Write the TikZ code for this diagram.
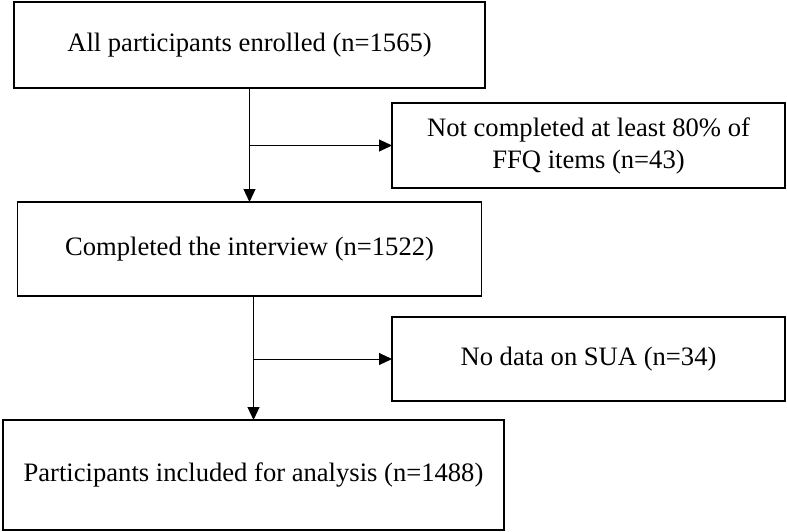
\documentclass[tikz,border=0pt]{standalone}
\usepackage{fontspec}
\setmainfont{Liberation Serif}
\usetikzlibrary{arrows.meta}
\begin{document}
\begin{tikzpicture}[x=1pt,y=-1pt,
  boxnode/.style={draw, line width=1.6pt, inner sep=0pt, outer sep=0pt, align=center,
    font=\fontsize{26.6}{32}\selectfont},
  arr/.style={line width=1pt, -{Triangle[length=13pt,width=12pt]}}]
\useasboundingbox (0,0) rectangle (787,531);
\node[boxnode, minimum width=471pt, minimum height=86pt] (b1) at (249.5,45) {All participants enrolled (n=1565)};
\node[boxnode, minimum width=393pt, minimum height=85pt] (b2) at (588.5,145.5) {Not completed at least 80\% of\\FFQ items (n=43)};
\node[boxnode, minimum width=464pt, minimum height=94pt] (b3) at (249.5,249) {Completed the interview (n=1522)};
\node[boxnode, minimum width=393pt, minimum height=84pt] (b4) at (588.5,359) {No data on SUA (n=34)};
\node[boxnode, minimum width=501pt, minimum height=110pt] (b5) at (253.5,475) {Participants included for analysis (n=1488)};
\coordinate (j1) at (b1.south |- b2.west);
\coordinate (j2) at (b5.north |- b4.west);
\draw[arr] (b1.south) -- (b1.south |- b3.north);
\draw[arr] (j1) -- (b2.west);
\draw[arr] (b5.north |- b3.south) -- (b5.north);
\draw[arr] (j2) -- (b4.west);
\end{tikzpicture}
\end{document}
